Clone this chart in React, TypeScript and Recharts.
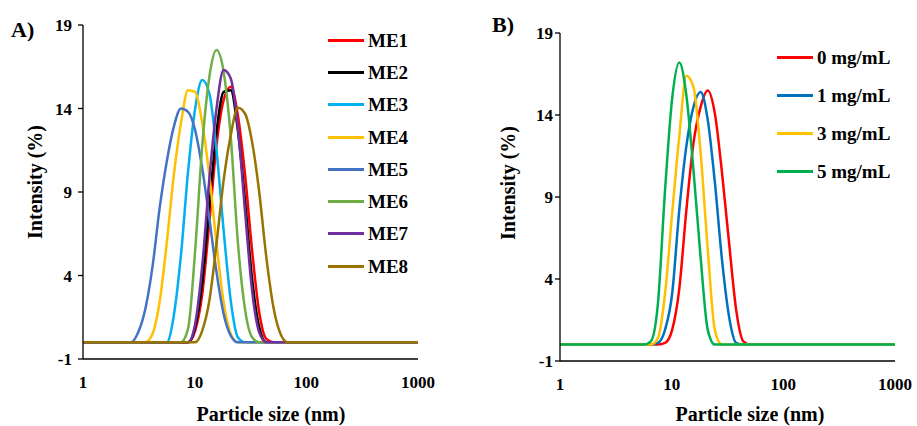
import { LineChart, Line, XAxis, YAxis, Legend } from 'recharts';

// particle size bins (nm)
const sizesA = [1, 2.328, 2.696, 3.122, 3.615, 4.187, 4.849, 5.615, 6.503, 7.531, 8.721, 10.1, 11.7, 13.54, 15.69, 18.17, 21.04, 24.36, 28.21, 32.67, 37.84, 43.82, 50.75, 58.77, 68.06, 78.82, 1000];

const me1 = [0, 0, 0, 0, 0, 0, 0, 0, 0, 0, 0, 0.7, 2.9, 7.2, 11.8, 14.5, 15.3, 13.6, 10.1, 5.5, 1.8, 0.2, 0, 0, 0, 0, 0];
const me2 = [0, 0, 0, 0, 0, 0, 0, 0, 0, 0, 0, 0.9, 3.6, 8.2, 12.6, 15.0, 15.1, 12.7, 8.5, 3.8, 0.9, 0, 0, 0, 0, 0, 0];
const me3 = [0, 0, 0, 0, 0, 0, 0, 0, 1.6, 5.2, 10.2, 14.0, 15.7, 14.9, 11.5, 6.7, 2.5, 0.3, 0, 0, 0, 0, 0, 0, 0, 0, 0];
const me4 = [0, 0, 0, 0, 0, 0.5, 2.4, 5.9, 10.0, 13.1, 15.1, 15.0, 13.1, 10.0, 5.9, 2.4, 0.5, 0, 0, 0, 0, 0, 0, 0, 0, 0, 0];
const me5 = [0, 0, 0, 0.6, 2.0, 4.5, 8.0, 10.8, 12.9, 14.0, 13.8, 12.7, 10.4, 7.4, 4.2, 1.7, 0.4, 0, 0, 0, 0, 0, 0, 0, 0, 0, 0];
const me6 = [0, 0, 0, 0, 0, 0, 0, 0, 0, 0, 0.8, 5.5, 11.8, 15.9, 17.5, 16.2, 12.3, 6.0, 2.0, 0.3, 0, 0, 0, 0, 0, 0, 0];
const me7 = [0, 0, 0, 0, 0, 0, 0, 0, 0, 0, 0, 1.1, 4.6, 9.8, 14.0, 16.3, 15.8, 12.9, 7.9, 3.1, 0.6, 0, 0, 0, 0, 0, 0];
const me8 = [0, 0, 0, 0, 0, 0, 0, 0, 0, 0, 0, 0, 0.7, 2.5, 5.9, 9.7, 12.4, 14.05, 13.7, 12.0, 9.0, 5.1, 2.1, 0.5, 0, 0, 0];

const sizesB = [1, 4.849, 5.615, 6.503, 7.531, 8.721, 10.1, 11.7, 13.54, 15.69, 18.17, 21.04, 24.36, 28.21, 32.67, 37.84, 43.82, 50.75, 1000];

const mg0 = [0, 0, 0, 0, 0, 0.1, 0.9, 3.4, 8.2, 12.3, 14.5, 15.5, 14.1, 10.5, 6.2, 2.1, 0.2, 0, 0];
const mg1 = [0, 0, 0, 0, 0.1, 0.9, 3.1, 8.2, 12.1, 14.5, 15.4, 13.7, 9.9, 5.2, 1.7, 0.1, 0, 0, 0];
const mg3 = [0, 0, 0, 0, 0.4, 3.1, 8.0, 12.7, 16.4, 15.7, 11.7, 5.8, 0.9, 0, 0, 0, 0, 0, 0];
const mg5 = [0, 0, 0, 0.2, 2.5, 9.4, 15.0, 17.2, 15.2, 10.6, 5.3, 0.9, 0, 0, 0, 0, 0, 0, 0];

const xTicks = [1, 10, 100, 1000];
const yTicks = [-1, 4, 9, 14, 19];

const FONT = "'Liberation Serif', 'Times New Roman', serif";

const seriesA = [
  { name: 'ME1', values: me1, color: '#FF0000' },
  { name: 'ME2', values: me2, color: '#000000' },
  { name: 'ME3', values: me3, color: '#00B0F0' },
  { name: 'ME4', values: me4, color: '#FFC000' },
  { name: 'ME5', values: me5, color: '#4472C4' },
  { name: 'ME6', values: me6, color: '#70AD47' },
  { name: 'ME7', values: me7, color: '#7030A0' },
  { name: 'ME8', values: me8, color: '#997300' },
];

const seriesB = [
  { name: '0 mg/mL', values: mg0, color: '#FF0000' },
  { name: '1 mg/mL', values: mg1, color: '#0070C0' },
  { name: '3 mg/mL', values: mg3, color: '#FFC000' },
  { name: '5 mg/mL', values: mg5, color: '#00B050' },
];

type Series = { name: string; values: number[]; color: string };

const buildRows = (sizes: number[], series: Series[]) =>
  sizes.map((s, i) => {
    const row: Record<string, number> = { size: s };
    series.forEach((ser) => (row[ser.name] = ser.values[i]));
    return row;
  });

const tickStyle = { fill: '#000', fontSize: 17, fontWeight: 'bold', fontFamily: FONT };

const LegendBox = ({ series, rowH, lineW }: { series: Series[]; rowH: number; lineW: number }) => (
  <div>
    {series.map((s) => (
      <div key={s.name} style={{ display: 'flex', alignItems: 'center', height: rowH }}>
        <div style={{ width: lineW, height: 3, background: s.color, marginRight: 4 }} />
        <span style={{ fontFamily: FONT, fontWeight: 'bold', fontSize: 19, lineHeight: 1, color: '#000', whiteSpace: 'nowrap' }}>
          {s.name}
        </span>
      </div>
    ))}
  </div>
);

const Panel = ({
  series, sizes, width, margin, yTickMargin, legendPos, rowH,
}: {
  series: Series[];
  sizes: number[];
  width: number;
  margin: { top: number; right: number; bottom: number; left: number };
  yTickMargin: number;
  legendPos: { left: number; top: number };
  rowH: number;
}) => (
  <LineChart width={width} height={426} data={buildRows(sizes, series)} margin={margin}>
    <XAxis
      dataKey="size"
      type="number"
      scale="log"
      domain={[1, 1000]}
      ticks={xTicks}
      interval={0}
      tickLine={false}
      tickSize={5}
      tickMargin={12}
      height={30}
      axisLine={{ stroke: '#000', strokeWidth: 1.3 }}
      tick={tickStyle}
    />
    <YAxis
      type="number"
      domain={[-1, 19]}
      ticks={yTicks}
      interval={0}
      width={50}
      tickSize={5}
      tickMargin={yTickMargin}
      tickLine={{ stroke: '#000', strokeWidth: 1.3 }}
      axisLine={{ stroke: '#000', strokeWidth: 1.3 }}
      tick={tickStyle}
    />
    <Legend
      layout="vertical"
      align="center"
      verticalAlign="middle"
      wrapperStyle={{ left: legendPos.left, top: legendPos.top, width: 130, height: rowH * series.length }}
      content={() => <LegendBox series={series} rowH={rowH} lineW={36} />}
    />
    {series.map((s) => (
      <Line
        key={s.name}
        dataKey={s.name}
        type="monotone"
        stroke={s.color}
        strokeWidth={2.5}
        dot={false}
        activeDot={false}
        isAnimationActive={false}
      />
    ))}
  </LineChart>
);

export default function App() {
  const title = { fontFamily: FONT, fontWeight: 'bold', fill: '#000' } as const;
  return (
    <div style={{ position: 'absolute', left: 0, top: 0, width: 917, height: 426, background: '#fff' }}>
      <div style={{ position: 'absolute', left: 0, top: 0 }}>
        <Panel
          series={seriesA}
          sizes={sizesA}
          width={460}
          margin={{ top: 25, right: 42, bottom: 37, left: 33 }}
          yTickMargin={6}
          legendPos={{ left: 328, top: 24 }}
          rowH={32.3}
        />
      </div>
      <div style={{ position: 'absolute', left: 460, top: 0 }}>
        <Panel
          series={seriesB}
          sizes={sizesB}
          width={457}
          margin={{ top: 33, right: 22, bottom: 35, left: 50 }}
          yTickMargin={2}
          legendPos={{ left: 317, top: 39 }}
          rowH={37.9}
        />
      </div>
      <svg width={917} height={426} style={{ position: 'absolute', left: 0, top: 0, pointerEvents: 'none' }}>
        <text x={11} y={37} fontSize={22} {...title}>A)</text>
        <text x={492} y={32} fontSize={22} {...title}>B)</text>
        <text x={271} y={421} fontSize={20} textAnchor="middle" {...title}>Particle size (nm)</text>
        <text x={750} y={421} fontSize={20} textAnchor="middle" {...title}>Particle size (nm)</text>
        <text x={0} y={0} fontSize={20} textAnchor="middle" dominantBaseline="central" transform="translate(35,182) rotate(-90)" {...title}>
          Intensity (%)
        </text>
        <text x={0} y={0} fontSize={20} textAnchor="middle" dominantBaseline="central" transform="translate(508,183) rotate(-90)" {...title}>
          Intensity (%)
        </text>
      </svg>
    </div>
  );
}
